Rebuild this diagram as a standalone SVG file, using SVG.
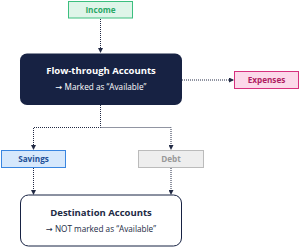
<svg xmlns="http://www.w3.org/2000/svg" width="300" height="247" viewBox="0 0 300 247">
<style>
text{font-family:"Open Sans","Liberation Sans",sans-serif;text-anchor:middle}
.lbl{font-size:8.2px;font-weight:bold}
.t{font-size:9.5px;font-weight:bold}
.s{font-size:8.2px}
.ar{font-family:"DejaVu Sans",sans-serif}
.c{fill:none;stroke:#222a44;stroke-width:1;stroke-dasharray:1 1}
</style>
<defs>
<marker id="a" markerWidth="5" markerHeight="5" refX="4" refY="2.5" orient="auto" markerUnits="userSpaceOnUse">
<path d="M0,0 L5,2.5 L0,5 z" fill="#222a44"/>
</marker>
</defs>
<g id="connectors">
<path class="c" d="M100.5,19 V52" marker-end="url(#a)"/>
<path class="c" d="M182,80 H233" marker-end="url(#a)"/>
<path class="c" d="M100.5,105 V127.5 H33.5 V149" marker-end="url(#a)"/>
<path class="c" d="M100.5,127.5 H171 V149" marker-end="url(#a)"/>
<path class="c" d="M33.5,168 V194" marker-end="url(#a)"/>
<path class="c" d="M171,168 V194" marker-end="url(#a)"/>
</g>
<g id="income">
<rect x="68.5" y="1.5" width="64" height="16.5" fill="#dff5e9" stroke="#3cbf7f" stroke-width="1"/>
<text class="lbl" x="100.5" y="12.8" fill="#2aa866">Income</text>
</g>
<g id="flow">
<rect x="20" y="53.5" width="162" height="51.5" rx="7" fill="#172243"/>
<text class="t" x="101" y="74" fill="#ffffff">Flow-through Accounts</text>
<text class="s" x="101" y="90" fill="#ffffff"><tspan class="ar">→</tspan> Marked as “Available”</text>
</g>
<g id="expenses">
<rect x="234.5" y="71.5" width="64" height="17" fill="#fcd9ea" stroke="#d6307e" stroke-width="1"/>
<text class="lbl" x="266.5" y="83.2" fill="#b01c63">Expenses</text>
</g>
<g id="savings">
<rect x="1.5" y="150.5" width="64" height="17" fill="#d6e8fc" stroke="#3a86e0" stroke-width="1"/>
<text class="lbl" x="33.5" y="162.2" fill="#1c4f96">Savings</text>
</g>
<g id="debt">
<rect x="138.5" y="150.5" width="65" height="17" fill="#eeeeee" stroke="#bbbbbb" stroke-width="1"/>
<text class="lbl" x="171" y="162.2" fill="#999999">Debt</text>
</g>
<g id="destination">
<rect x="20.5" y="195" width="161" height="51" rx="8" fill="#ffffff" stroke="#172243" stroke-width="1"/>
<text class="t" x="101" y="216" fill="#222a44">Destination Accounts</text>
<text class="s" x="101" y="232" fill="#222a44"><tspan class="ar">→</tspan> NOT marked as “Available”</text>
</g>
</svg>
